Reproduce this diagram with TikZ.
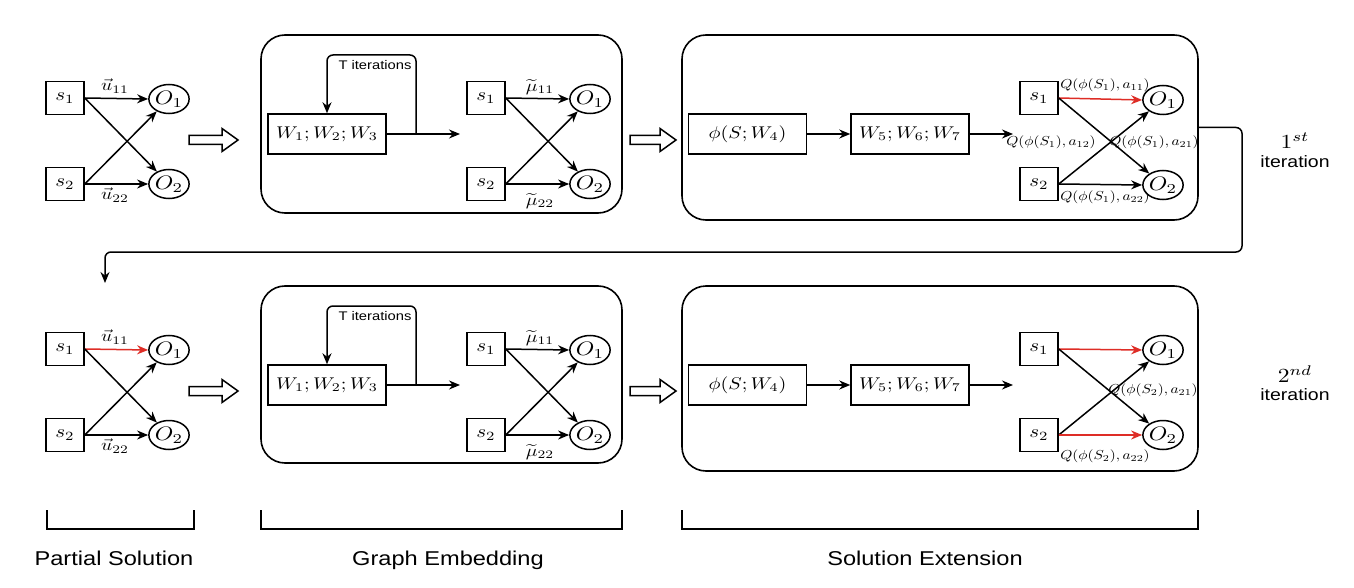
\documentclass[tikz,border=0pt]{standalone}
\usepackage{fontspec}
\setsansfont{Liberation Sans}
\usepackage{graphicx}
\usetikzlibrary{arrows.meta,shapes.geometric}
\newcommand{\sA}[1]{\scalebox{2.1}[1.8]{#1}}
\newcommand{\sO}[1]{\scalebox{2.35}[1.95]{#1}}
\newcommand{\sL}[1]{\scalebox{1.95}[1.65]{#1}}
\newcommand{\sB}[1]{\scalebox{2.006}[1.7]{#1}}
\newcommand{\sQ}[1]{\scalebox{1.534}[1.3]{#1}}
\newcommand{\sT}[1]{\scalebox{1.475}[1.25]{#1}}
\newcommand{\sI}[1]{\scalebox{1.947}[1.65]{#1}}
\newcommand{\sC}[1]{\scalebox{2.36}[2.0]{#1}}
\definecolor{redline}{RGB}{222,45,38}
\tikzset{
  sbox/.style={draw, line width=1.5pt, minimum width=38pt, minimum height=33pt, inner sep=0pt},
  onode/.style={draw, ellipse, line width=1.5pt, minimum width=38pt, minimum height=29pt, inner sep=0pt},
  wbox/.style={draw, line width=1.5pt, minimum width=118pt, minimum height=40pt, inner sep=0pt},
  grp/.style={draw, line width=1.6pt, rounded corners=24pt, inner sep=0pt},
  arr/.style={line width=1.5pt, -{Stealth[length=11pt,width=9pt]}},
  rarr/.style={arr, draw=redline},
  ql/.style={inner sep=0pt},
  el/.style={inner sep=0pt},
  tit/.style={font=\sffamily, inner sep=0pt},
  itl/.style={font=\sffamily, inner sep=0pt},
  ordl/.style={inner sep=0pt},
  capl/.style={font=\sffamily, inner sep=0pt, anchor=base},
  hollow/.style={line width=1.5pt, fill=white, line join=miter},
  brk/.style={line width=1.6pt},
}
\begin{document}
\begin{tikzpicture}[x=1pt,y=-1pt]
\useasboundingbox (0,0) rectangle (1354,588);

% ================= ROW 1 =================
\node[sbox] (ps1a) at (65,98) {\sA{$s_1$}};
\node[sbox] (ps1b) at (65,184) {\sA{$s_2$}};
\node[onode] (po1a) at (169,99) {\sO{$O_1$}};
\node[onode] (po1b) at (169,184) {\sO{$O_2$}};
\draw[arr] (ps1a.east) -- (po1a.west);
\draw[arr] (ps1a.east) -- (po1b);
\draw[arr] (ps1b.east) -- (po1a);
\draw[arr] (ps1b.east) -- (po1b.west);
\node[el] (pu1a) at (115,86) {\sL{$\vec{u}_{11}$}};
\node[el] (pu1b) at (115,195) {\sL{$\vec{u}_{22}$}};
\draw[hollow] (189,135.5) -- (222,135.5) -- (222,128.5) -- (238,140) -- (222,151.5) -- (222,144.5) -- (189,144.5) -- cycle;

\node[grp, minimum width=361pt, minimum height=178pt] (ge1) at (441.5,124) {};
\node[wbox] (w1) at (327,134) {\sB{$W_1;W_2;W_3$}};
\coordinate (w1o) at (460,134);
\coordinate (l1a) at (416,134);
\draw[arr] (w1.east) -- (w1o);
\draw[arr, rounded corners=6pt] (l1a) -- (416,55) -- (327,55) -- (w1.north);
\node[tit] (t1) at (375,65) {\sT{T iterations}};
\node[sbox] (gs1a) at (486,98) {\sA{$s_1$}};
\node[sbox] (gs1b) at (486,184) {\sA{$s_2$}};
\node[onode] (go1a) at (590,99) {\sO{$O_1$}};
\node[onode] (go1b) at (590,184) {\sO{$O_2$}};
\draw[arr] (gs1a.east) -- (go1a.west);
\draw[arr] (gs1a.east) -- (go1b);
\draw[arr] (gs1b.east) -- (go1a);
\draw[arr] (gs1b.east) -- (go1b.west);
\node[el] (gm1a) at (540,87) {\sL{$\widetilde{\mu}_{11}$}};
\node[el] (gm1b) at (540,201) {\sL{$\widetilde{\mu}_{22}$}};
\draw[hollow] (630,135.5) -- (660,135.5) -- (660,128.5) -- (676,140) -- (660,151.5) -- (660,144.5) -- (630,144.5) -- cycle;

\node[grp, minimum width=516pt, minimum height=185pt] (se1) at (940,127.5) {};
\node[wbox] (phi1) at (747.5,134) {\sB{$\phi(S;W_4)$}};
\node[wbox] (w5) at (910,134) {\sB{$W_5;W_6;W_7$}};
\coordinate (w5o) at (1013,134);
\draw[arr] (phi1.east) -- (w5.west);
\draw[arr] (w5.east) -- (w5o);
\node[sbox] (ss1a) at (1039,98) {\sA{$s_1$}};
\node[sbox] (ss1b) at (1039,184) {\sA{$s_2$}};
\node[onode] (so1a) at (1163,100) {\sO{$O_1$}};
\node[onode] (so1b) at (1163,185) {\sO{$O_2$}};
\draw[rarr] (ss1a.east) -- (so1a.west);
\draw[arr] (ss1a.east) -- (so1b);
\draw[arr] (ss1b.east) -- (so1a);
\draw[arr] (ss1b.east) -- (so1b.west);
\node[ql] (q1a) at (1105,85) {\sQ{$Q(\phi(S_1),a_{11})$}};
\node[ql] (q1b) at (1051,142) {\sQ{$Q(\phi(S_1),a_{12})$}};
\node[ql] (q1c) at (1154,142) {\sQ{$Q(\phi(S_1),a_{21})$}};
\node[ql] (q1d) at (1105,197) {\sQ{$Q(\phi(S_1),a_{22})$}};

\coordinate (c2) at (105,283);
\draw[arr, rounded corners=6pt] (se1.east) -- (1242,127.5) -- (1242,252) -- (105,252) -- (c2);

\node[ordl] (it1n) at (1295,141) {\sC{$1^{st}$}};
\node[itl] (it1t) at (1295,162) {\sI{iteration}};

% ================= ROW 2 =================
\node[sbox] (ps2a) at (65,349) {\sA{$s_1$}};
\node[sbox] (ps2b) at (65,435) {\sA{$s_2$}};
\node[onode] (po2a) at (169,350) {\sO{$O_1$}};
\node[onode] (po2b) at (169,435) {\sO{$O_2$}};
\draw[rarr] (ps2a.east) -- (po2a.west);
\draw[arr] (ps2a.east) -- (po2b);
\draw[arr] (ps2b.east) -- (po2a);
\draw[arr] (ps2b.east) -- (po2b.west);
\node[el] (pu2a) at (115,337) {\sL{$\vec{u}_{11}$}};
\node[el] (pu2b) at (115,446) {\sL{$\vec{u}_{22}$}};
\draw[hollow] (189,386.5) -- (222,386.5) -- (222,379.5) -- (238,391) -- (222,402.5) -- (222,395.5) -- (189,395.5) -- cycle;

\node[grp, minimum width=361pt, minimum height=177pt] (ge2) at (441.5,374.5) {};
\node[wbox] (w2) at (327,385) {\sB{$W_1;W_2;W_3$}};
\coordinate (w2o) at (460,385);
\coordinate (l2a) at (416,385);
\draw[arr] (w2.east) -- (w2o);
\draw[arr, rounded corners=6pt] (l2a) -- (416,306) -- (327,306) -- (w2.north);
\node[tit] (t2) at (375,316) {\sT{T iterations}};
\node[sbox] (gs2a) at (486,349) {\sA{$s_1$}};
\node[sbox] (gs2b) at (486,435) {\sA{$s_2$}};
\node[onode] (go2a) at (590,350) {\sO{$O_1$}};
\node[onode] (go2b) at (590,435) {\sO{$O_2$}};
\draw[arr] (gs2a.east) -- (go2a.west);
\draw[arr] (gs2a.east) -- (go2b);
\draw[arr] (gs2b.east) -- (go2a);
\draw[arr] (gs2b.east) -- (go2b.west);
\node[el] (gm2a) at (540,338) {\sL{$\widetilde{\mu}_{11}$}};
\node[el] (gm2b) at (540,452) {\sL{$\widetilde{\mu}_{22}$}};
\draw[hollow] (630,386.5) -- (660,386.5) -- (660,379.5) -- (676,391) -- (660,402.5) -- (660,395.5) -- (630,395.5) -- cycle;

\node[grp, minimum width=516pt, minimum height=185pt] (se2) at (940,378.5) {};
\node[wbox] (phi2) at (747.5,385) {\sB{$\phi(S;W_4)$}};
\node[wbox] (w6) at (910,385) {\sB{$W_5;W_6;W_7$}};
\coordinate (w6o) at (1013,385);
\draw[arr] (phi2.east) -- (w6.west);
\draw[arr] (w6.east) -- (w6o);
\node[sbox] (ss2a) at (1039,349) {\sA{$s_1$}};
\node[sbox] (ss2b) at (1039,435) {\sA{$s_2$}};
\node[onode] (so2a) at (1163,350) {\sO{$O_1$}};
\node[onode] (so2b) at (1163,435) {\sO{$O_2$}};
\draw[rarr] (ss2a.east) -- (so2a.west);
\draw[arr] (ss2a.east) -- (so2b);
\draw[arr] (ss2b.east) -- (so2a);
\draw[rarr] (ss2b.east) -- (so2b.west);
\node[ql] (q2c) at (1153,390) {\sQ{$Q(\phi(S_2),a_{21})$}};
\node[ql] (q2d) at (1105,456) {\sQ{$Q(\phi(S_2),a_{22})$}};

\node[ordl] (it2n) at (1295,374) {\sC{$2^{nd}$}};
\node[itl] (it2t) at (1295,395) {\sI{iteration}};

% ================= brackets =================
\draw[brk] (47,510) -- (47,529) -- (194,529) -- (194,510);
\draw[brk] (261,510) -- (261,529) -- (622,529) -- (622,510);
\draw[brk] (682,510) -- (682,529) -- (1198,529) -- (1198,510);
\node[capl] (cap1) at (114,565) {\sC{Partial Solution}};
\node[capl] (cap2) at (448,565) {\sC{Graph Embedding}};
\node[capl] (cap3) at (925,565) {\sC{Solution Extension}};
\end{tikzpicture}
\end{document}
